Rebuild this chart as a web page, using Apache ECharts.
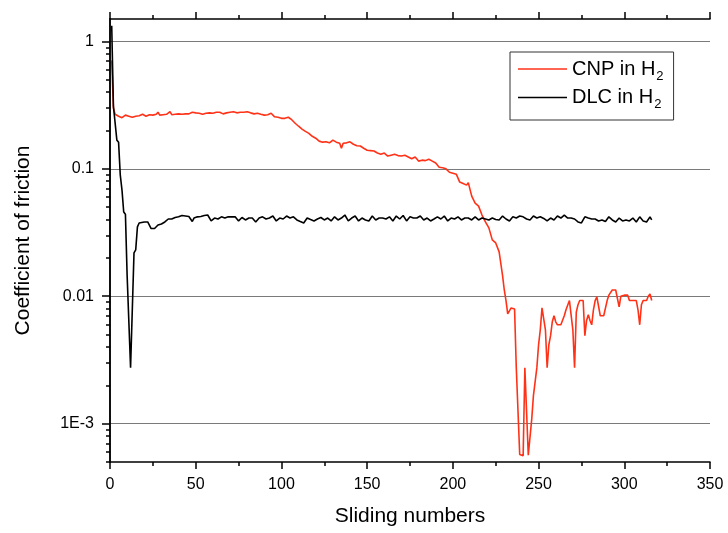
<!DOCTYPE html>
<html>
<head>
<meta charset="utf-8">
<script src="https://cdn.jsdelivr.net/npm/echarts@6/dist/echarts.min.js"></script>
<style>html,body{margin:0;padding:0;background:#fff}#c{width:728px;height:533px}</style>
</head>
<body>
<div id="c"></div>
<script>
var cnpX = [1,2,3,5,7,9,11,13,15,17,19,21,23,25,27,28,29,31,33,35,36,38,40,42,44,46,48,50,52,54,56,58,60,62,64,66,68,70,72,74,76,78,80,82,84,86,88,90,92,94,96,98,100,102,104,106,108,110,112,114,116,118,120,122,124,126,128,130,132,134,135,136,138,140,142,144,146,148,150,152,154,156,158,160,162,164,166,168,170,172,174,176,178,180,182,184,186,188,190,192,194,196,198,200,202,204,206,208,209,211,213,215,217,219,221,223,225,227,229,230,231,232,233,234,235,236,237,238,239,240,241,242,243,244,245,246,247,248,249,250,251,252,253,254,255,256,257,258,259,260,261,263,265,266,268,269,270,271,272,273,274,276,277,278,279,280,281,282,283,284,285,286,288,289,290,291,292,293,294,295,296,297,298,300,302,303,305,307,308,309,310,311,313,314,315,316];
var cnpY = [0.71,0.299,0.268,0.259,0.252,0.264,0.259,0.254,0.259,0.261,0.268,0.259,0.266,0.264,0.268,0.278,0.264,0.266,0.268,0.281,0.266,0.268,0.270,0.268,0.270,0.270,0.278,0.275,0.273,0.268,0.273,0.275,0.273,0.278,0.278,0.270,0.275,0.278,0.281,0.275,0.278,0.278,0.281,0.275,0.270,0.273,0.268,0.264,0.266,0.273,0.256,0.254,0.249,0.249,0.254,0.243,0.228,0.216,0.205,0.197,0.190,0.180,0.174,0.165,0.162,0.163,0.160,0.168,0.162,0.159,0.145,0.159,0.160,0.163,0.156,0.152,0.151,0.145,0.140,0.139,0.138,0.133,0.130,0.133,0.126,0.128,0.130,0.127,0.126,0.128,0.124,0.120,0.124,0.115,0.117,0.116,0.119,0.115,0.111,0.103,0.102,0.100,0.094,0.0925,0.0908,0.0787,0.0766,0.0745,0.078,0.0611,0.0538,0.051,0.0434,0.0383,0.0344,0.0277,0.0262,0.0223,0.0145,0.0112,0.00925,0.00728,0.00715,0.0081,0.00795,0.00795,0.00275,0.00275,0.000573,0.000565,0.00056,0.00275,0.00275,0.000565,0.000565,0.00108,0.00166,0.00166,0.00275,0.00416,0.00545,0.0081,0.0081,0.00545,0.00275,0.00416,0.0049,0.0063,0.00703,0.0063,0.00597,0.00597,0.00703,0.00783,0.00925,0.00925,0.00545,0.00275,0.0075,0.00857,0.00925,0.00925,0.0049,0.00646,0.00715,0.00646,0.00597,0.00783,0.00925,0.0099,0.0102,0.00703,0.00703,0.00703,0.00925,0.0102,0.0099,0.0112,0.0116,0.0112,0.0096,0.00826,0.0100,0.0102,0.0102,0.00925,0.00925,0.00925,0.00783,0.00597,0.00857,0.00925,0.00925,0.0100,0.0104,0.00925];
var dlcX = [1,2,3,4,5,6,7,8,9,10,11,12,13,14,15,16,17,18,20,22,24,26,27,28,30,32,34,36,38,40,42,44,46,48,49,51,53,55,57,59,61,63,65,67,69,71,73,75,77,79,81,83,85,87,89,91,93,95,97,99,101,103,105,107,109,111,113,115,117,119,121,123,125,127,129,131,133,135,137,139,141,143,145,147,149,151,153,155,157,159,161,163,165,167,169,171,173,175,177,179,181,183,185,187,189,191,193,195,197,199,201,203,205,207,209,211,213,215,217,219,221,223,225,227,229,231,233,235,237,239,241,243,245,247,249,251,253,255,257,259,261,263,265,267,269,271,273,275,277,279,281,283,285,287,289,291,293,295,297,299,301,303,305,307,309,311,313,315,316];
var dlcY = [1.33,0.31,0.31,0.168,0.162,0.0893,0.068,0.0458,0.044,0.0145,0.014,0.00275,0.00275,0.0219,0.0231,0.035,0.0376,0.0383,0.0383,0.0383,0.034,0.034,0.0344,0.0362,0.0369,0.0383,0.0404,0.0404,0.0415,0.042,0.043,0.0426,0.0422,0.0386,0.0411,0.042,0.0422,0.043,0.0434,0.039,0.0411,0.0404,0.042,0.0411,0.042,0.042,0.042,0.039,0.0415,0.0397,0.0411,0.0411,0.0383,0.0411,0.042,0.0404,0.0411,0.0426,0.039,0.0411,0.0404,0.0426,0.0411,0.042,0.0397,0.0386,0.0376,0.0411,0.040,0.039,0.0404,0.0415,0.0397,0.0411,0.039,0.042,0.0397,0.0411,0.0434,0.039,0.0411,0.0426,0.039,0.0411,0.0397,0.039,0.0426,0.0397,0.0411,0.0411,0.0404,0.042,0.039,0.0426,0.0404,0.043,0.039,0.042,0.0411,0.0411,0.0426,0.0397,0.0411,0.039,0.0404,0.042,0.0404,0.0426,0.039,0.0411,0.0404,0.042,0.0397,0.0411,0.0411,0.0397,0.042,0.0397,0.0411,0.0404,0.0397,0.0411,0.040,0.0397,0.0426,0.0404,0.039,0.042,0.0411,0.0426,0.042,0.0404,0.0397,0.0426,0.0411,0.042,0.0408,0.039,0.0411,0.0397,0.0426,0.0411,0.0434,0.0411,0.0411,0.0404,0.0383,0.0376,0.042,0.0411,0.0404,0.0404,0.039,0.0397,0.0386,0.042,0.0397,0.0383,0.0411,0.039,0.0397,0.039,0.0411,0.0383,0.042,0.039,0.0383,0.042,0.0397];
var xTicks = [0,50,100,150,200,250,300,350];
var yMajor = [0.001,0.01,0.1,1];
var yLabels = {'-3':'1E-3','-2':'0.01','-1':'0.1','0':'1'};
var seriesNames = ['CNP in H2','DLC in H2'];

function pairs(xs, ys){ return xs.map(function(x,i){ return [x, ys[i]]; }); }
var yMinor = [];
[-4,-3,-2,-1].forEach(function(e){ for (var k=2;k<=9;k++){ var v=k*Math.pow(10,e); if (v>=0.0005 && v<=1.5) yMinor.push(+v.toPrecision(3)); } });

var FONT = 'Liberation Sans';
var chart = echarts.init(document.getElementById('c'), null, {renderer:'canvas'});
chart.setOption({
  animation:false,
  backgroundColor:'#fff',
  textStyle:{fontFamily:FONT},
  grid:{left:110,right:18,top:19,bottom:71,containLabel:false},
  legend:{
    orient:'vertical', left:510, top:52,
    padding:[7,10,9,8], itemGap:5, itemWidth:49, itemHeight:1.6, icon:'rect',
    borderColor:'#333', borderWidth:1, backgroundColor:'#fff',
    data:seriesNames,
    formatter:function(n){ return '{m|'+n.slice(0,-1)+'}{s|2}'; },
    textStyle:{color:'#000', rich:{
      m:{fontSize:20, fontFamily:FONT, color:'#000', lineHeight:24},
      s:{fontSize:13, fontFamily:FONT, color:'#000', padding:[14,0,0,1]}
    }}
  },
  xAxis:[{
    type:'value', position:'bottom', min:0, max:350, interval:50,
    name:'Sliding numbers', nameLocation:'middle', nameGap:44,
    nameTextStyle:{fontSize:21, color:'#000', fontFamily:FONT},
    axisLine:{lineStyle:{color:'#000', width:1.5}},
    axisTick:{inside:false, length:7, lineStyle:{color:'#000', width:1.5}},
    minorTick:{show:true, splitNumber:2, length:4, lineStyle:{color:'#000', width:1.5}},
    axisLabel:{fontSize:16, color:'#000', margin:15, fontFamily:FONT},
    splitLine:{show:false}
  },{
    type:'value', position:'top', min:0, max:350, interval:50,
    axisLine:{lineStyle:{color:'#000', width:1.5}},
    axisTick:{inside:false, length:7, lineStyle:{color:'#000', width:1.5}},
    minorTick:{show:true, splitNumber:2, length:4, lineStyle:{color:'#000', width:1.5}},
    axisLabel:{show:false}, splitLine:{show:false}
  }],
  yAxis:[{
    type:'log', logBase:10, position:'left', min:0.0005, max:1.5,
    name:'Coefficient of friction', nameLocation:'middle', nameGap:76,
    nameTextStyle:{fontSize:21, color:'#000', fontFamily:FONT},
    axisLine:{lineStyle:{color:'#000', width:1.5}},
    axisTick:{inside:false, length:8, customValues:yMajor, lineStyle:{color:'#000', width:1.5}},
    axisLabel:{fontSize:16, color:'#000', margin:16, fontFamily:FONT, customValues:yMajor,
      formatter:function(v){ return yLabels[String(Math.round(Math.log10(v)))] || ''; }},
    splitLine:{show:true, lineStyle:{color:'#7a7a7a', width:1}}
  },{
    type:'log', logBase:10, position:'right', min:0.0005, max:1.5,
    axisLine:{show:true, lineStyle:{color:'#000', width:1.5}},
    axisTick:{show:false}, axisLabel:{show:false}, splitLine:{show:false}
  },{
    type:'log', logBase:10, position:'left', min:0.0005, max:1.5,
    axisLine:{show:false},
    axisTick:{show:true, inside:false, length:4, customValues:yMinor, lineStyle:{color:'#000', width:1.5}},
    axisLabel:{show:false}, splitLine:{show:false}
  }],
  series:[{
    name:seriesNames[0], type:'line', xAxisIndex:0, yAxisIndex:0,
    symbol:'none', showSymbol:false, data:pairs(cnpX, cnpY),
    lineStyle:{color:'#ff3218', width:1.6}, itemStyle:{color:'#ff3218'}
  },{
    name:seriesNames[1], type:'line', xAxisIndex:0, yAxisIndex:0,
    symbol:'none', showSymbol:false, data:pairs(dlcX, dlcY),
    lineStyle:{color:'#000', width:1.6}, itemStyle:{color:'#000'}
  }]
});
</script>
</body>
</html>
